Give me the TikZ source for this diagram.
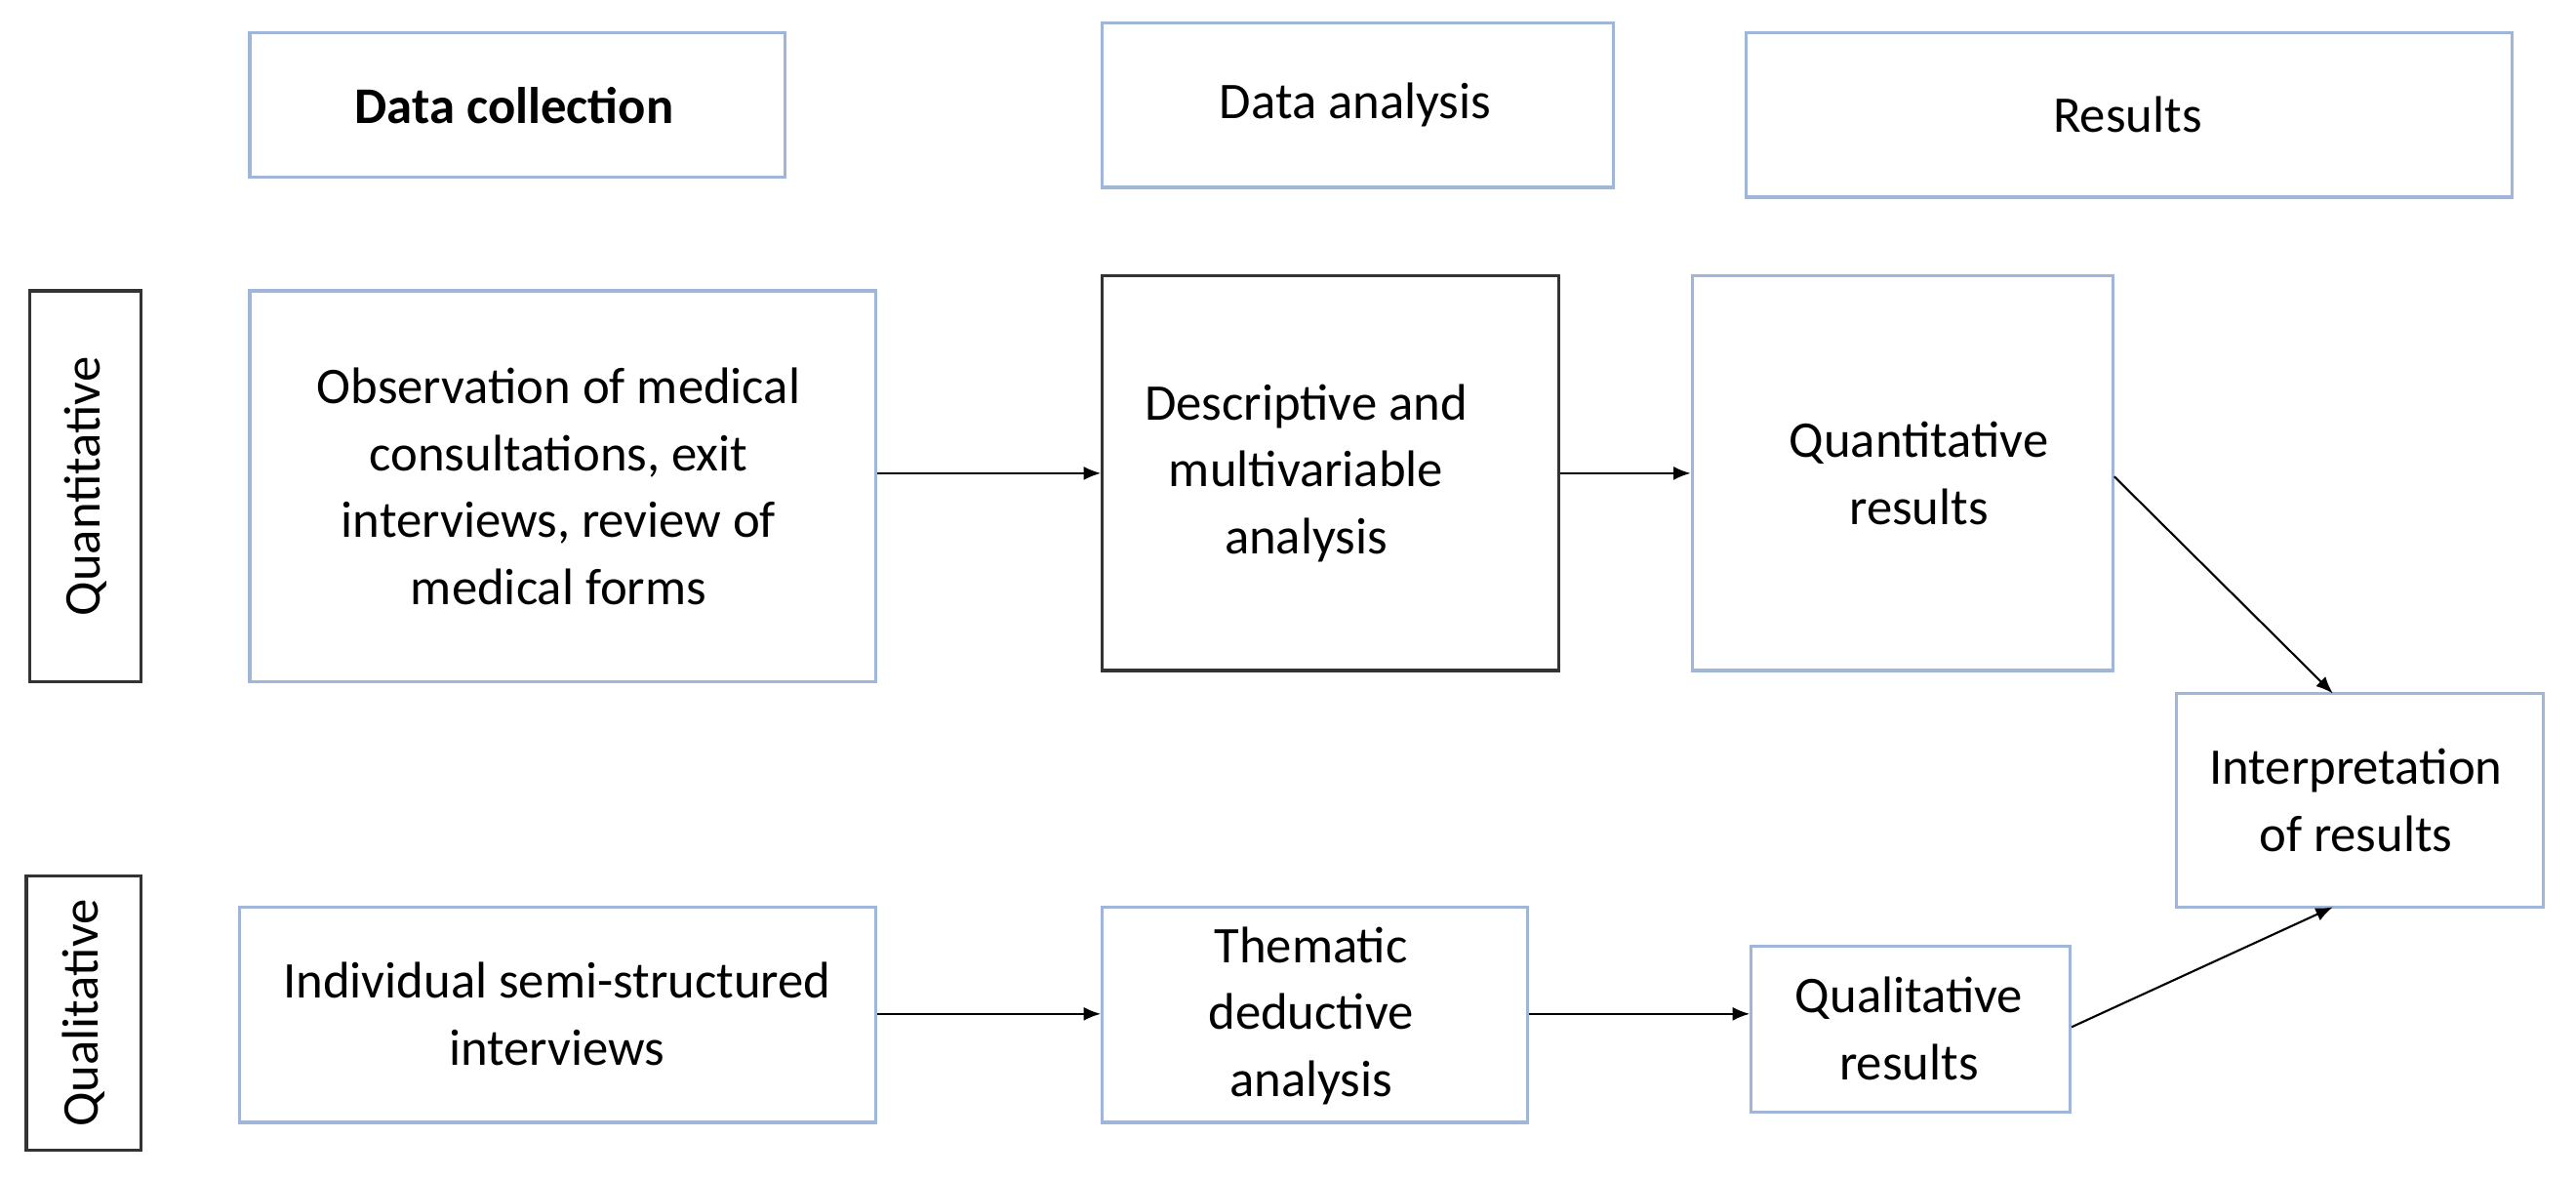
\documentclass[tikz,border=0pt]{standalone}
\usepackage{fontspec}
\setmainfont{Carlito}
\usetikzlibrary{fit,arrows.meta}
\definecolor{bb}{HTML}{9FB6D8}
\begin{document}
\fontsize{15}{19.5}\selectfont
\begin{tikzpicture}[x=0.01684cm,y=-0.01684cm,
 box/.style={draw=bb,line width=0.9pt,inner sep=0,fit={#1}},
 kbox/.style={draw=black!80,line width=0.9pt,inner sep=0,fit={#1}},
 t/.style={align=center,inner sep=0},
 ar/.style={-{Latex[length=5pt,width=4pt]},line width=0.6pt}]
\useasboundingbox (0,0) rectangle (1568,717);
\node[box={(152,20)(478,108)}] (dc) {};
\node[box={(671,14)(982,114)}] (da) {};
\node[box={(1063,20)(1529,120)}] (rs) {};
\node[t,font=\bfseries] at (313,64) {Data collection};
\node[t] at (825,64) {Data analysis};
\node[t] at (1295,70) {Results};
\node[kbox={(18,177)(86,415)}] (qn) {};
\node[t,rotate=90] at (qn.center) {Quantitative};
\node[kbox={(16,533)(86,700)}] (ql) {};
\node[t,rotate=90] at (ql.center) {Qualitative};
\node[box={(152,177)(533,415)}] (obs) {};
\node[t] at (340,296) {Observation of medical\\consultations, exit\\interviews, review of\\medical forms};
\node[kbox={(671,168)(949,408)}] (des) {};
\node[t] at (795,288) {Descriptive and\\multivariable\\analysis};
\node[box={(1030,168)(1286,408)}] (qr) {};
\node[t] at (1168,288) {Quantitative\\results};
\node[box={(1325,422)(1548,552)}] (int) {};
\node[t] at (1434,487) {Interpretation\\of results};
\node[box={(146,552)(533,683)}] (ind) {};
\node[t] at (339,617) {Individual semi-structured\\interviews};
\node[box={(671,552)(930,683)}] (th) {};
\node[t] at (798,618) {Thematic\\deductive\\analysis};
\node[box={(1066,576)(1260,677)}] (qlr) {};
\node[t] at (1162,626) {Qualitative\\results};
\draw[ar] (obs.east |- 0,288) -- (des.west |- 0,288);
\draw[ar] (des.east |- 0,288) -- (qr.west |- 0,288);
\draw[ar] (ind.east |- 0,617) -- (th.west |- 0,617);
\draw[ar] (th.east |- 0,617) -- (qlr.west |- 0,617);
\coordinate (it) at (1420,422);
\coordinate (ib) at (1420,552);
\draw[ar] (qr.east |- 0,290) -- (it);
\draw[ar] (qlr.east |- 0,625) -- (ib);
\end{tikzpicture}
\end{document}
